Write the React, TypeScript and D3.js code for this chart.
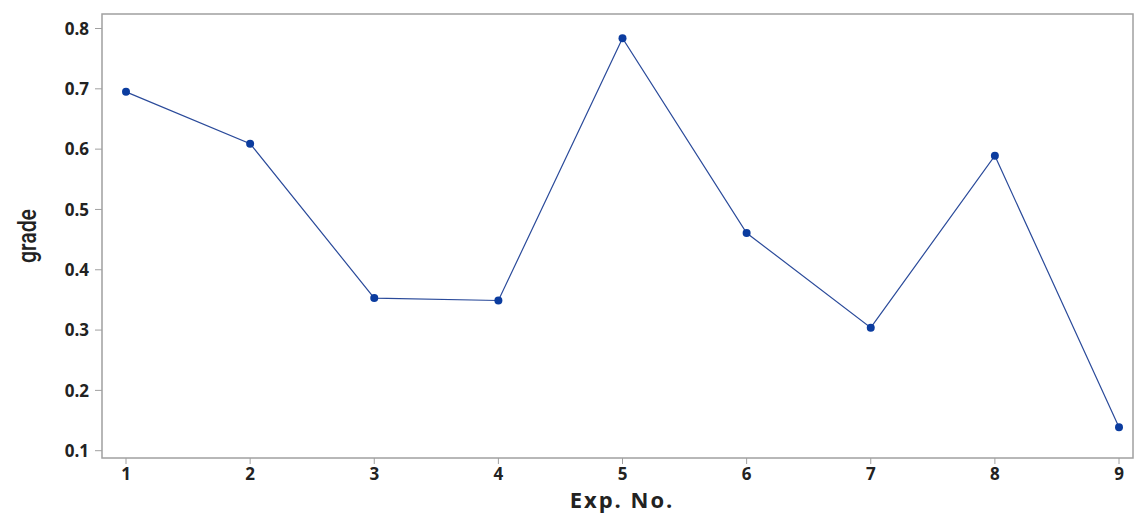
import React from "react";
import * as d3 from "d3";

const expNo = [1, 2, 3, 4, 5, 6, 7, 8, 9];
const grade = [0.695, 0.609, 0.353, 0.349, 0.784, 0.461, 0.304, 0.589, 0.139];
const yTicks = [0.1, 0.2, 0.3, 0.4, 0.5, 0.6, 0.7, 0.8];

export default function App() {
  const W = 1136, H = 514;
  const left = 102, right = 1133, top = 14, bottom = 458;
  const x = d3.scaleLinear().domain([1, 9]).range([126, 1119]);
  const y = d3.scaleLinear().domain([0.1, 0.8]).range([450.7, 28.5]);
  const line = d3.line<number>().x((_, i) => x(expNo[i])).y((d) => y(d));
  const font = "'Open Sans', 'DejaVu Sans', sans-serif";
  return (
    <svg width={W} height={H} style={{ position: "absolute", left: 0, top: 0, background: "#fff" }}>
      <rect x={left} y={top} width={right - left} height={bottom - top} fill="none" stroke="#a0a0a0" strokeWidth={1.5} />
      {yTicks.map((t) => (
        <g key={t}>
          <line x1={left - 7} x2={left} y1={y(t)} y2={y(t)} stroke="#a0a0a0" strokeWidth={1} />
          <text x={89} y={y(t)} dy="0.36em" textAnchor="end" fontFamily={font} fontWeight={700} fontSize={17} fill="#222">
            {d3.format(".1f")(t)}
          </text>
        </g>
      ))}
      {expNo.map((t) => (
        <g key={t}>
          <line x1={x(t)} x2={x(t)} y1={bottom} y2={bottom + 6} stroke="#a0a0a0" strokeWidth={1} />
          <text x={x(t)} y={480} textAnchor="middle" fontFamily={font} fontWeight={700} fontSize={17} fill="#222">
            {t}
          </text>
        </g>
      ))}
      <text x={622} y={508} textAnchor="middle" fontFamily={font} fontWeight={700} fontSize={22} letterSpacing={2} fill="#222">
        Exp. No.
      </text>
      <text transform="translate(36,236) rotate(-90) scale(0.85,1)" textAnchor="middle" fontFamily="Roboto, sans-serif" fontWeight={500} fontSize={25} fill="#222">
        grade
      </text>
      <path d={line(grade) || ""} fill="none" stroke="#2a4a9a" strokeWidth={1.2} />
      {grade.map((g, i) => (
        <circle key={i} cx={x(expNo[i])} cy={y(g)} r={4} fill="#0b3c9f" />
      ))}
    </svg>
  );
}
